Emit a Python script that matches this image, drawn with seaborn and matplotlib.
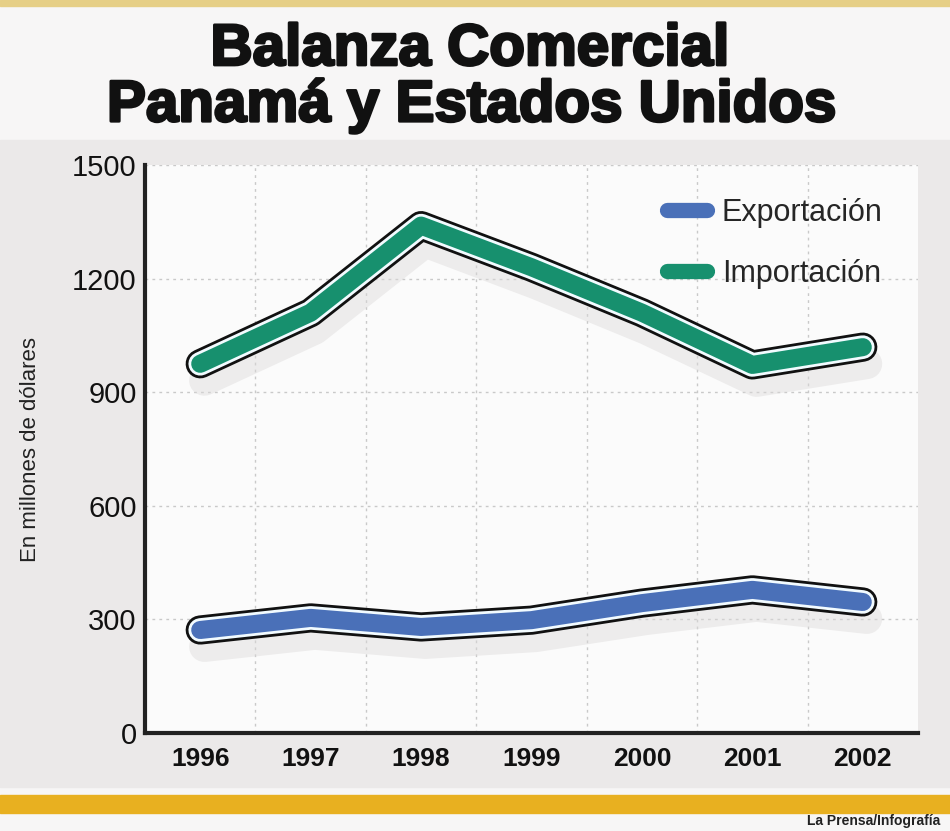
import matplotlib
matplotlib.use("Agg")
import matplotlib.pyplot as plt
import matplotlib.patheffects as pe
from matplotlib.lines import Line2D
from matplotlib.patches import Rectangle
import numpy as np
import pandas as pd
import seaborn as sns

# values (millions of dollars)
years = [1996, 1997, 1998, 1999, 2000, 2001, 2002]
exportacion = [272, 304, 280, 298, 343, 378, 346]
importacion = [975, 1110, 1340, 1230, 1110, 972, 1019]
series_names = ["Exportación", "Importación"]
series_colors = ["#4a70b8", "#17906e"]
y_ticks = [0, 300, 600, 900, 1200, 1500]

df = pd.DataFrame({
    "year": years * 2,
    "value": exportacion + importacion,
    "serie": [series_names[0]] * len(years) + [series_names[1]] * len(years),
})

sns.set_theme(style="white")
plt.rcParams["font.family"] = ["Liberation Sans", "DejaVu Sans"]

fig = plt.figure(figsize=(9.5, 8.31), dpi=100)
fig.patch.set_facecolor("#f7f6f6")

# textured band behind the chart and the yellow rules
fig.add_artist(Rectangle((0, 1 - 787 / 831), 1, (787 - 140) / 831,
                         transform=fig.transFigure, color="#ebe9e9", zorder=0))
fig.add_artist(Rectangle((0, 1 - 813 / 831), 1, 18 / 831,
                         transform=fig.transFigure, color="#e8b020", zorder=1))
fig.add_artist(Rectangle((0, 1 - 6 / 831), 1, 6 / 831,
                         transform=fig.transFigure, color="#e6cf86", zorder=1))

ax = fig.add_axes([145 / 950, 1 - 733 / 831, (918 - 145) / 950, (733 - 165) / 831])
ax.set_facecolor("#fbfbfb")

sns.lineplot(data=df, x="year", y="value", hue="serie", palette=series_colors,
             linewidth=13, legend=False, ax=ax, zorder=5)

for line in ax.lines:
    line.set_solid_capstyle("round")
    line.set_solid_joinstyle("round")
    line.set_path_effects([
        pe.Stroke(offset=(3, -12), linewidth=22, foreground="#dcdada", alpha=0.45),
        pe.Stroke(linewidth=21, foreground="#111111"),
        pe.Stroke(linewidth=17, foreground="#f2fbff"),
        pe.Normal(),
    ])

ax.set_xlim(years[0] - 0.5, years[-1] + 0.5)
ax.set_ylim(0, 1500)

# labels sit at the years, ticks and grid at the boundaries between them
ax.set_xticks(np.arange(years[0] + 0.5, years[-1], 1.0))
ax.set_xticklabels([])
ax.set_xticks(years, minor=True)
ax.set_xticklabels([str(y) for y in years], minor=True, fontsize=19,
                   fontweight="bold", color="#111111")
ax.tick_params(axis="x", which="major", direction="in", length=10, width=2.5,
               color="#222222")
ax.tick_params(axis="x", which="minor", length=0, pad=10)

ax.set_yticks(y_ticks)
ax.set_yticklabels([str(v) for v in y_ticks], fontsize=21, color="#111111")
ax.tick_params(axis="y", direction="in", length=10, width=2.5, color="#222222", pad=6)

ax.grid(True, which="major", axis="both", color="#c9c9c9", linestyle=(0, (2, 3)),
        linewidth=1)

for side in ["top", "right"]:
    ax.spines[side].set_visible(False)
for side in ["left", "bottom"]:
    ax.spines[side].set_color("#222222")
    ax.spines[side].set_linewidth(3)

ax.set_xlabel("")
ax.set_ylabel("En millones de dólares", fontsize=16, color="#222222", labelpad=22)

handles = [Line2D([0], [0], color=c, lw=11, solid_capstyle="round") for c in series_colors]
ax.legend(handles, series_names, loc="upper right", bbox_to_anchor=(0.99, 0.99),
          frameon=False, fontsize=22, handlelength=1.3, handletextpad=0.5,
          labelspacing=1.0)

title_fx = [pe.withStroke(linewidth=2.0, foreground="#111111")]
fig.text(0.495, 1 - 50 / 831, "Balanza Comercial", ha="center", va="center",
         fontsize=42, fontweight="bold", color="#111111", path_effects=title_fx)
fig.text(0.497, 1 - 106 / 831, "Panamá y Estados Unidos", ha="center", va="center",
         fontsize=42, fontweight="bold", color="#111111", path_effects=title_fx)
fig.text(0.99, 0.004, "La Prensa/Infografía", ha="right", va="bottom",
         fontsize=10, fontweight="bold", color="#222222")

fig.savefig("out.png", dpi=100, facecolor=fig.get_facecolor())
